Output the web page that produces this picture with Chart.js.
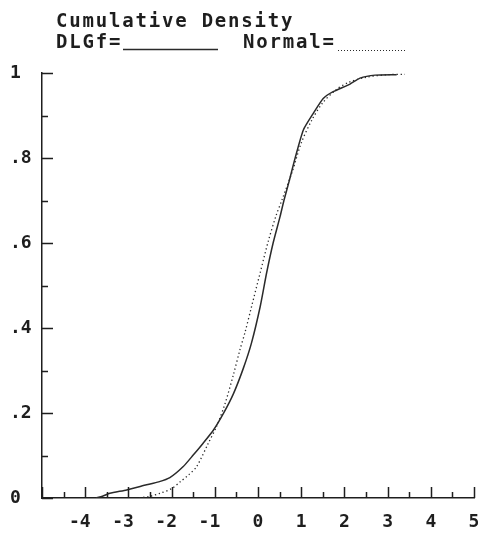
<!DOCTYPE html>
<html>
<head>
<meta charset="utf-8">
<script src="https://cdn.jsdelivr.net/npm/chart.js@4"></script>
<style>
  html, body { margin: 0; padding: 0; background: #fff; }
  canvas { display: block; }
</style>
</head>
<body>
<canvas id="cdfChart" width="478" height="537"></canvas>
<script>
/* ================= DATA ================= */
const dlgfX = [-3.75, -3.6, -3.43, -3.04, -2.58, -2.3, -2.04, -1.73, -1.5, -1.27, -1.03, -0.8, -0.57, -0.34, -0.15,
    0.05, 0.2, 0.35, 0.51, 0.6, 0.72, 0.86, 1.05, 1.28, 1.51, 1.74, 2.13, 2.36, 2.71, 3.21];
const dlgfY = [0, 0.004, 0.011, 0.019, 0.031, 0.038, 0.048, 0.074, 0.101, 0.129, 0.16, 0.199, 0.245, 0.305, 0.365,
    0.45, 0.53, 0.6, 0.662, 0.70, 0.745, 0.80, 0.866, 0.905, 0.94, 0.956, 0.974, 0.988, 0.995, 0.996];

const normalX = [-2.75, -2.5, -2.27, -2.0, -1.8, -1.6, -1.42, -1.15, -0.96, -0.76, -0.57, -0.42, -0.3, -0.15, 0.05,
    0.24, 0.42, 0.55, 0.8, 1.0, 1.25, 1.5, 1.8, 2.1, 2.5, 3.0, 3.4];
const normalY = [0, 0.004, 0.011, 0.022, 0.038, 0.055, 0.074, 0.129, 0.168, 0.223, 0.29, 0.348, 0.39, 0.45, 0.53,
    0.605, 0.665, 0.70, 0.77, 0.835, 0.89, 0.93, 0.96, 0.978, 0.99, 0.996, 0.997];

const xTickLabels = ['', '-4', '-3', '-2', '-1', '0', '1', '2', '3', '4', '5'];
const yTickLabels = ['0', '.2', '.4', '.6', '.8', '1'];

const ink = '#1e1e1e';
const FONT = '"DejaVu Sans Mono", "Liberation Mono", monospace';

/* ================= HEADER + TICKS PLUGIN ================= */
const retroAxes = {
    id: 'retroAxes',
    afterDraw(chart) {
        const ctx = chart.ctx;
        const xs = chart.scales.x;
        const ys = chart.scales.y;
        const { left, bottom } = chart.chartArea;

        ctx.save();
        ctx.strokeStyle = ink;
        ctx.lineWidth = 1.5;
        ctx.beginPath();
        // x ticks every 0.5, pointing up
        for (let i = -10; i <= 10; i++) {
            const px = Math.round(xs.getPixelForValue(i / 2)) + 0.5;
            const len = i % 2 === 0 ? 11 : 6;
            ctx.moveTo(px, bottom);
            ctx.lineTo(px, bottom - len);
        }
        // y ticks every 0.1, pointing right
        for (let i = 0; i <= 10; i++) {
            const py = Math.round(ys.getPixelForValue(i / 10)) + 0.5;
            const len = i % 2 === 0 ? 11 : 6;
            ctx.moveTo(left, py);
            ctx.lineTo(left + len, py);
        }
        ctx.stroke();

        // header text and legend samples
        ctx.fillStyle = ink;
        ctx.font = 'bold 19px ' + FONT;
        ctx.letterSpacing = '1.8px';
        ctx.textBaseline = 'alphabetic';
        ctx.fillText('Cumulative Density', 56, 27);
        ctx.fillText('DLGf=', 56, 48);
        ctx.fillText('Normal=', 243, 48);

        const ds = chart.data.datasets;
        ctx.lineWidth = 1.5;
        ctx.strokeStyle = ds[0].borderColor;
        ctx.beginPath();
        ctx.moveTo(123, 49.5);
        ctx.lineTo(218, 49.5);
        ctx.stroke();

        ctx.lineWidth = 1;
        ctx.strokeStyle = ds[1].borderColor;
        ctx.setLineDash([1, 2]);
        ctx.beginPath();
        ctx.moveTo(338, 50.5);
        ctx.lineTo(405, 50.5);
        ctx.stroke();
        ctx.restore();
    }
};

/* ================= CHART ================= */
const ctx = document.getElementById('cdfChart').getContext('2d');

const cdfChart = new Chart(ctx, {
    type: 'scatter',
    data: {
        datasets: [
            {
                label: 'DLGf',
                data: dlgfX.map((x, i) => ({ x: x, y: dlgfY[i] })),
                showLine: true,
                borderColor: '#2a2a2a',
                borderWidth: 1.5,
                pointRadius: 0,
                tension: 0.2
            },
            {
                label: 'Normal',
                data: normalX.map((x, i) => ({ x: x, y: normalY[i] })),
                showLine: true,
                borderColor: '#2a2a2a',
                borderWidth: 1.3,
                borderDash: [1.3, 2.7],
                pointRadius: 0,
                tension: 0.3
            }
        ]
    },
    options: {
        responsive: false,
        animation: false,
        layout: { padding: { top: 73, left: 10, right: 4, bottom: 0 } },
        plugins: {
            legend: { display: false },
            title: { display: false },
            tooltip: { enabled: false }
        },
        scales: {
            x: {
                type: 'linear',
                min: -5,
                max: 5,
                grid: { display: false, drawTicks: false },
                border: { display: true, color: ink, width: 1.5 },
                ticks: {
                    stepSize: 1,
                    padding: 14,
                    maxRotation: 0,
                    autoSkip: false,
                    color: ink,
                    font: { family: FONT, size: 18, weight: 'bold' },
                    // negative labels get a trailing space so the digit sits on the tick
                    callback: value => {
                        const lbl = xTickLabels[Math.round(value) + 5];
                        return value < 0 && lbl ? lbl + ' ' : lbl;
                    }
                },
                afterFit: scale => {
                    scale.height = 39;
                    scale.paddingLeft = 0;
                    scale.paddingRight = 0;
                }
            },
            y: {
                min: 0,
                max: 1,
                grid: { display: false, drawTicks: false },
                border: { display: true, color: ink, width: 1.5 },
                ticks: {
                    stepSize: 0.2,
                    crossAlign: 'far',
                    color: ink,
                    font: { family: FONT, size: 18, weight: 'bold' },
                    callback: value => yTickLabels[Math.round(value * 5)]
                },
                afterFit: scale => {
                    scale.width = 32;
                }
            }
        }
    },
    plugins: [retroAxes]
});
</script>
</body>
</html>
